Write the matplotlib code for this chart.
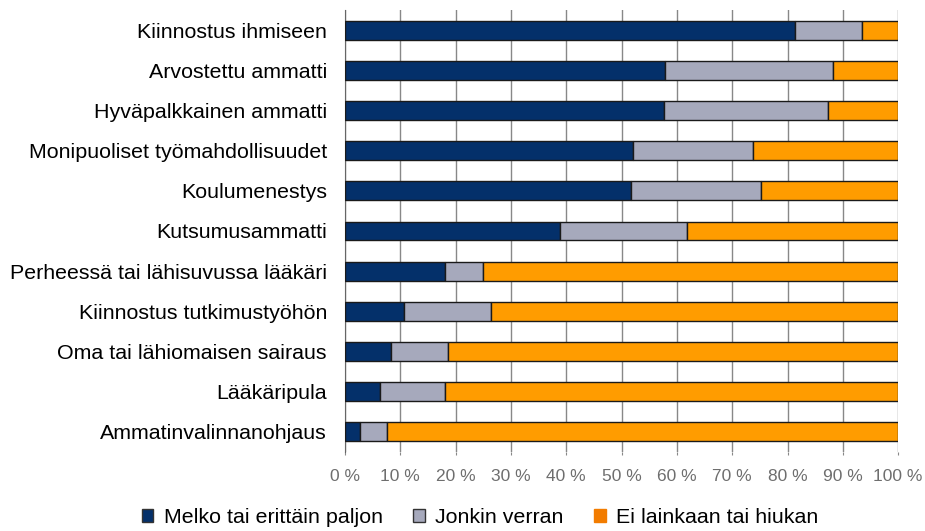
import numpy as np
import matplotlib.pyplot as plt

plt.rcParams['font.family'] = ['Liberation Sans', 'DejaVu Sans']

categories = [
    "Kiinnostus ihmiseen",
    "Arvostettu ammatti",
    "Hyväpalkkainen ammatti",
    "Monipuoliset työmahdollisuudet",
    "Koulumenestys",
    "Kutsumusammatti",
    "Perheessä tai lähisuvussa lääkäri",
    "Kiinnostus tutkimustyöhön",
    "Oma tai lähiomaisen sairaus",
    "Lääkäripula",
    "Ammatinvalinnanohjaus",
]
melko = [81.3, 57.8, 57.6, 52.0, 51.7, 38.8, 18.0, 10.6, 8.3, 6.4, 2.7]
jonkin = [12.2, 30.5, 29.8, 21.7, 23.5, 23.0, 7.0, 15.8, 10.4, 11.6, 4.8]
ei = [100 - a - b for a, b in zip(melko, jonkin)]
series_names = ["Melko tai erittäin paljon", "Jonkin verran", "Ei lainkaan tai hiukan"]
colors = ["#04306A", "#A6A9BC", "#FF9C00"]
tick_vals = list(range(0, 101, 10))
tick_labels = [f"{v} %" for v in tick_vals]

fig = plt.figure(figsize=(9.25, 5.31), dpi=100)
ax = fig.add_axes([0.373, 0.149, 0.598, 0.832])

y = np.arange(len(categories))
left = np.zeros(len(categories))
for vals, name, c in zip([melko, jonkin, ei], series_names, colors):
    ax.barh(y, vals, left=left, height=0.47, color=c, edgecolor="#1a1a1a",
            linewidth=1.0, label=name, zorder=3)
    left += np.array(vals)

ax.set_ylim(len(categories) - 0.5, -0.5)
ax.set_xlim(0, 100)
ax.set_yticks(y)
ax.set_yticklabels(categories, fontsize=15.4, color="black")
ax.tick_params(axis="y", length=0, pad=13)
ax.set_xticks(tick_vals)
ax.set_xticklabels(tick_labels, fontsize=12.5, color="#6e6e6e")
ax.tick_params(axis="x", length=2, color="#888888", pad=10)
ax.grid(axis="x", color="#888888", linewidth=1.0, zorder=0)
for s in ["top", "right", "bottom"]:
    ax.spines[s].set_visible(False)
ax.spines["left"].set_color("#666666")

leg = fig.legend(loc="center", bbox_to_anchor=(0.519, 0.026), ncol=3, frameon=False,
                 fontsize=15.4, handlelength=0.55, handleheight=0.55,
                 columnspacing=1.4, handletextpad=0.5)
for h in leg.legend_handles:
    h.set_linewidth(1.0)
    h.set_edgecolor("#333333")
leg.legend_handles[2].set_facecolor("#F27C00")
leg.legend_handles[2].set_edgecolor("#F27C00")

fig.savefig("out.png", dpi=100)
